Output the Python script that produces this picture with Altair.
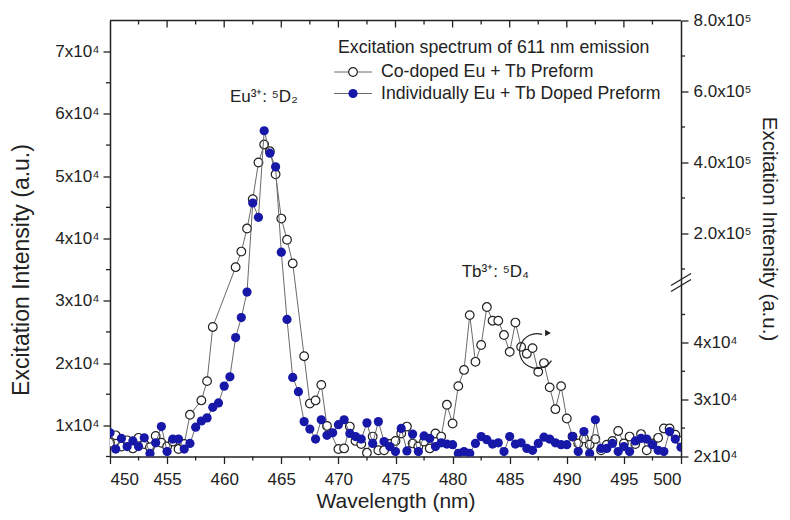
import altair as alt
import pandas as pd

FONT = "Liberation Sans"
INK = "#222222"
BLUE = "#1717a8"
LINE = "#6a6a6a"
W, H = 571, 436

# ---------------- data ----------------
blue_wl = [450.0, 450.5, 451.0, 451.5, 452.0, 452.5, 453.0, 453.5, 454.0, 454.5,
           455.0, 455.5, 456.0, 456.5, 457.0, 457.5, 458.0, 458.5, 459.0, 459.5,
           460.0, 460.5, 461.0, 461.5, 462.0, 462.5, 463.0, 463.5, 464.0, 464.5,
           465.0, 465.5, 466.0, 466.5, 467.0, 467.5, 468.0, 468.5, 469.0, 469.5,
           470.0, 470.5, 471.0, 471.5, 472.0, 472.5, 473.0, 473.5, 474.0, 474.5,
           475.0, 475.5, 476.0, 476.5, 477.0, 477.5, 478.0, 478.5, 479.0, 479.5,
           480.0, 480.5, 481.0, 481.5, 482.0, 482.5, 483.0, 483.5, 484.0, 484.5,
           485.0, 485.5, 486.0, 486.5, 487.0, 487.5, 488.0, 488.5, 489.0, 489.5,
           490.0, 490.5, 491.0, 491.5, 492.0, 492.5, 493.0, 493.5, 494.0, 494.5,
           495.0, 495.5, 496.0, 496.5, 497.0, 497.5, 498.0, 498.5, 499.0, 499.5,
           500.0]
blue_v = [8800, 6200, 7900, 6600, 7500, 6600, 8000, 5500, 7200, 9800,
          5800, 7800, 7800, 6200, 7100, 9700, 10700, 11200, 12900, 13600,
          16300, 17800, 24100, 27300, 31400, 45700, 43400, 57300, 53700, 51500,
          37800, 27000, 17700, 15400, 10600, 9400, 7800, 10900, 8400, 8800,
          10100, 10900, 8700, 8200, 7800, 10400, 7100, 10600, 7400, 6600,
          5800, 9500, 5900, 8600, 5800, 8300, 7900, 6600, 7200, 7000,
          6900, 5500, 5800, 5500, 7100, 8200, 7700, 7000, 7200, 5800,
          8200, 7000, 7200, 6300, 6000, 7100, 8100, 7800, 7200, 6900,
          6900, 8200, 5800, 9000, 5500, 10900, 6300, 6300, 7100, 5800,
          6600, 5800, 7500, 7900, 7800, 6900, 6000, 5800, 9000, 7800,
          6500]

open_wl = [450.0, 450.5, 451.0, 451.5, 452.0, 452.5, 453.0, 453.5, 454.0, 454.5,
           455.0, 455.5, 456.0, 456.5, 457.0, 458.0, 458.5, 459.0, 461.0, 461.5,
           462.0, 462.5, 463.0, 463.5, 464.0, 464.5, 465.0, 465.5, 466.0, 467.0,
           467.5, 468.0, 468.5, 469.0, 470.0, 470.5, 471.0, 471.5, 472.0, 472.5,
           473.0, 473.5, 474.0, 474.5, 475.0, 475.5, 476.0, 476.5, 477.0, 477.5,
           478.0, 478.5, 479.0, 479.5, 480.0, 480.5, 481.0, 481.5, 482.0, 482.5,
           483.0, 483.5, 484.0, 484.5, 485.0, 485.5, 486.0, 486.5, 487.0, 487.5,
           488.0, 488.5, 489.0, 489.5, 490.0, 490.5, 491.0, 491.5, 492.0, 492.5,
           493.0, 493.5, 494.0, 494.5, 495.0, 495.5, 496.0, 496.5, 497.0, 497.5,
           498.0, 498.5, 499.0, 499.5, 500.0]
open_v = [7200, 8400, 6600, 7600, 6300, 8000, 7000, 6500, 8300, 7200,
          6600, 7400, 6200, 7000, 11700, 14000, 17100, 25800, 35400, 37900,
          41600, 46300, 52200, 55100, 54000, 50300, 43200, 39800, 36000, 21100,
          13500, 14000, 16500, 9900, 6200, 6300, 9800, 7500, 7000, 5600,
          8200, 6000, 6000, 7000, 7500, 8700, 9800, 7100, 6600, 7400,
          6300, 8700, 8200, 13300, 10300, 16300, 18900, 27700, 20200, 22900,
          29000, 26800, 26800, 24500, 21800, 26500, 22600, 21500, 22400, 18600,
          20000, 16100, 12600, 16300, 11100, 8200, 7100, 7900, 6900, 7800,
          6000, 6900, 7500, 9100, 7100, 8200, 7000, 8600, 6000, 7100,
          8000, 9500, 9500, 8500, 7500]

x_ticks = [450, 455, 460, 465, 470, 475, 480, 485, 490, 495, 500]
x_minor = [452.5, 457.5, 462.5, 467.5, 472.5, 477.5, 482.5, 487.5, 492.5, 497.5]
left_ticks = [10000, 20000, 30000, 40000, 50000, 60000, 70000]
left_minor = [5000, 15000, 25000, 35000, 45000, 55000, 65000]
right_ticks = [20000, 30000, 40000, 200000, 400000, 600000, 800000]
right_minor = [25000, 35000, 45000, 100000, 300000, 500000, 700000]

legend_title = "Excitation spectrum of 611 nm emission"
legend_labels = ["Co-doped Eu + Tb Preform", "Individually Eu + Tb Doped Preform"]
ann_text = ["Eu³⁺: ⁵D₂", "Tb³⁺: ⁵D₄"]
ann_wl = [460.5, 480.8]
ann_v = [62750, 34660]

blue_df = pd.DataFrame({"wl": blue_wl, "v": blue_v})
open_df = pd.DataFrame({"wl": open_wl, "v": open_v})

# ---------------- scales / axes ----------------
x_scale = alt.Scale(domain=[450, 500], nice=False, zero=False)
y_scale = alt.Scale(domain=[5000, 75000], nice=False, zero=False)
right_scale = alt.Scale(domain=[20000, 50100, 67600, 800000],
                        range=[H, 265, 260, 0], nice=False, zero=False)

common = dict(tickColor=INK, tickWidth=1.3, domainColor=INK, domainWidth=1.5,
              labelFont=FONT, labelColor=INK, labelFontSize=17,
              titleFont=FONT, titleColor=INK,
              titleFontWeight="normal", grid=False)

x_axis = alt.Axis(values=x_ticks, format="d", tickSize=7, labelPadding=8,
                  title="Wavelength (nm)", titleFontSize=21, titleY=51,
                  titleBaseline="alphabetic", **common)
y_axis = alt.Axis(values=left_ticks, tickSize=7, labelPadding=4,
                  labelExpr="format(datum.value / 10000, 'd') + 'x10⁴'",
                  title="Excitation Intensity (a.u.)", titleFontSize=23,
                  titleX=-89, titleY=249, titleAngle=270, titleBaseline="middle",
                  **common)
r_axis = alt.Axis(orient="right", values=right_ticks, tickSize=7, labelPadding=5,
                  labelExpr="datum.value >= 100000 ? format(datum.value / 100000, '.1f') + 'x10⁵' : format(datum.value / 10000, 'd') + 'x10⁴'",
                  title="Excitation Intensity (a.u.)", titleFontSize=20.5,
                  titleX=87, titleY=208, titleAngle=90, titleBaseline="middle",
                  **common)

X = alt.X("wl:Q", scale=x_scale, axis=x_axis)
Y = alt.Y("v:Q", scale=y_scale, axis=y_axis)

open_line = alt.Chart(open_df).mark_line(color=LINE, strokeWidth=1, clip=True).encode(x=X, y=Y)
open_pts = alt.Chart(open_df).mark_point(shape="circle", filled=True, fill="white",
                                         stroke=INK, strokeWidth=1.2, size=75,
                                         opacity=1, clip=True).encode(x=X, y=Y)
blue_line = alt.Chart(blue_df).mark_line(color=LINE, strokeWidth=1, clip=True).encode(x=X, y=Y)
blue_pts = alt.Chart(blue_df).mark_circle(color=BLUE, size=85, opacity=1,
                                          clip=True).encode(x=X, y=Y)

# frame & minor ticks
top_border = alt.Chart().mark_rule(color=INK, strokeWidth=1.5).encode(
    x=alt.value(0), x2=alt.value(W), y=alt.value(0))
top_major = alt.Chart(pd.DataFrame({"wl": x_ticks[1:-1]})).mark_rule(
    color=INK, strokeWidth=1.3).encode(x=alt.X("wl:Q", scale=x_scale), y=alt.value(0), y2=alt.value(7))
top_minor = alt.Chart(pd.DataFrame({"wl": x_minor})).mark_rule(
    color=INK, strokeWidth=1.3).encode(x=alt.X("wl:Q", scale=x_scale), y=alt.value(0), y2=alt.value(4))
bot_minor = alt.Chart(pd.DataFrame({"wl": x_minor})).mark_rule(
    color=INK, strokeWidth=1.3).encode(x=alt.X("wl:Q", scale=x_scale), y=alt.value(H), y2=alt.value(H + 4))
left_min = alt.Chart(pd.DataFrame({"v": left_minor})).mark_rule(
    color=INK, strokeWidth=1.3).encode(y=alt.Y("v:Q", scale=y_scale), x=alt.value(-4), x2=alt.value(0))

# annotations
ann = alt.Chart(pd.DataFrame({"wl": ann_wl, "v": ann_v, "t": ann_text})).mark_text(
    align="left", baseline="middle", font=FONT, fontSize=17, color=INK).encode(
    x=alt.X("wl:Q", scale=x_scale), y=alt.Y("v:Q", scale=y_scale), text="t:N")

# curved arrow
arc = alt.Chart().mark_arc(radius=18, radius2=16.8, theta=2.16, theta2=6.58,
                           color=INK).encode(x=alt.value(427), y=alt.value(330.5))
arrow_head = alt.Chart().mark_point(shape="triangle-right", filled=True, size=45,
                                    color=INK, opacity=1).encode(
    x=alt.value(438), y=alt.value(312.5))

# legend
leg_title = alt.Chart().mark_text(align="left", baseline="middle", font=FONT,
                                  fontSize=17.7, color=INK, text=legend_title).encode(
    x=alt.value(228), y=alt.value(27.5))
leg_items = []
for i, (lab, yy) in enumerate(zip(legend_labels, [51.5, 73])):
    leg_items.append(alt.Chart().mark_rule(color=LINE, strokeWidth=1).encode(
        x=alt.value(224), x2=alt.value(262), y=alt.value(yy)))
    if i == 0:
        leg_items.append(alt.Chart().mark_point(shape="circle", filled=True, fill="white",
                                                stroke=INK, strokeWidth=1.2, size=75,
                                                opacity=1).encode(x=alt.value(243), y=alt.value(yy)))
    else:
        leg_items.append(alt.Chart().mark_circle(color=BLUE, size=85, opacity=1).encode(
            x=alt.value(243), y=alt.value(yy)))
    leg_items.append(alt.Chart().mark_text(align="left", baseline="middle", font=FONT,
                                           fontSize=17.7, color=INK, text=lab).encode(
        x=alt.value(271), y=alt.value(yy)))

left_layer = alt.layer(open_line, open_pts, blue_line, blue_pts, top_border, top_major,
                       top_minor, bot_minor, left_min, ann, arc, arrow_head, leg_title,
                       *leg_items)

# right broken axis
RY = alt.Y("v:Q", scale=right_scale, axis=r_axis)
r_anchor = alt.Chart(pd.DataFrame({"v": right_ticks})).mark_point(opacity=0).encode(
    y=RY, x=alt.value(W))
r_minor = alt.Chart(pd.DataFrame({"v": right_minor})).mark_rule(
    color=INK, strokeWidth=1.3).encode(y=alt.Y("v:Q", scale=right_scale), x=alt.value(W), x2=alt.value(W + 4))
brk1 = alt.Chart().mark_rule(color=INK, strokeWidth=1.3).encode(
    x=alt.value(W - 10), x2=alt.value(W + 10), y=alt.value(271), y2=alt.value(259))
brk2 = alt.Chart().mark_rule(color=INK, strokeWidth=1.3).encode(
    x=alt.value(W - 10), x2=alt.value(W + 10), y=alt.value(265), y2=alt.value(253))
right_layer = alt.layer(r_anchor, r_minor, brk1, brk2)

chart = alt.layer(left_layer, right_layer).resolve_scale(y="independent").properties(
    width=W, height=H,
    autosize=alt.AutoSizeParams(type="none"),
    padding={"left": 102, "top": 12.5, "right": 101, "bottom": 55.5},
    background="white",
).configure_view(stroke=None)

chart.save("out.html", embed_options={"renderer": "svg", "actions": False})
